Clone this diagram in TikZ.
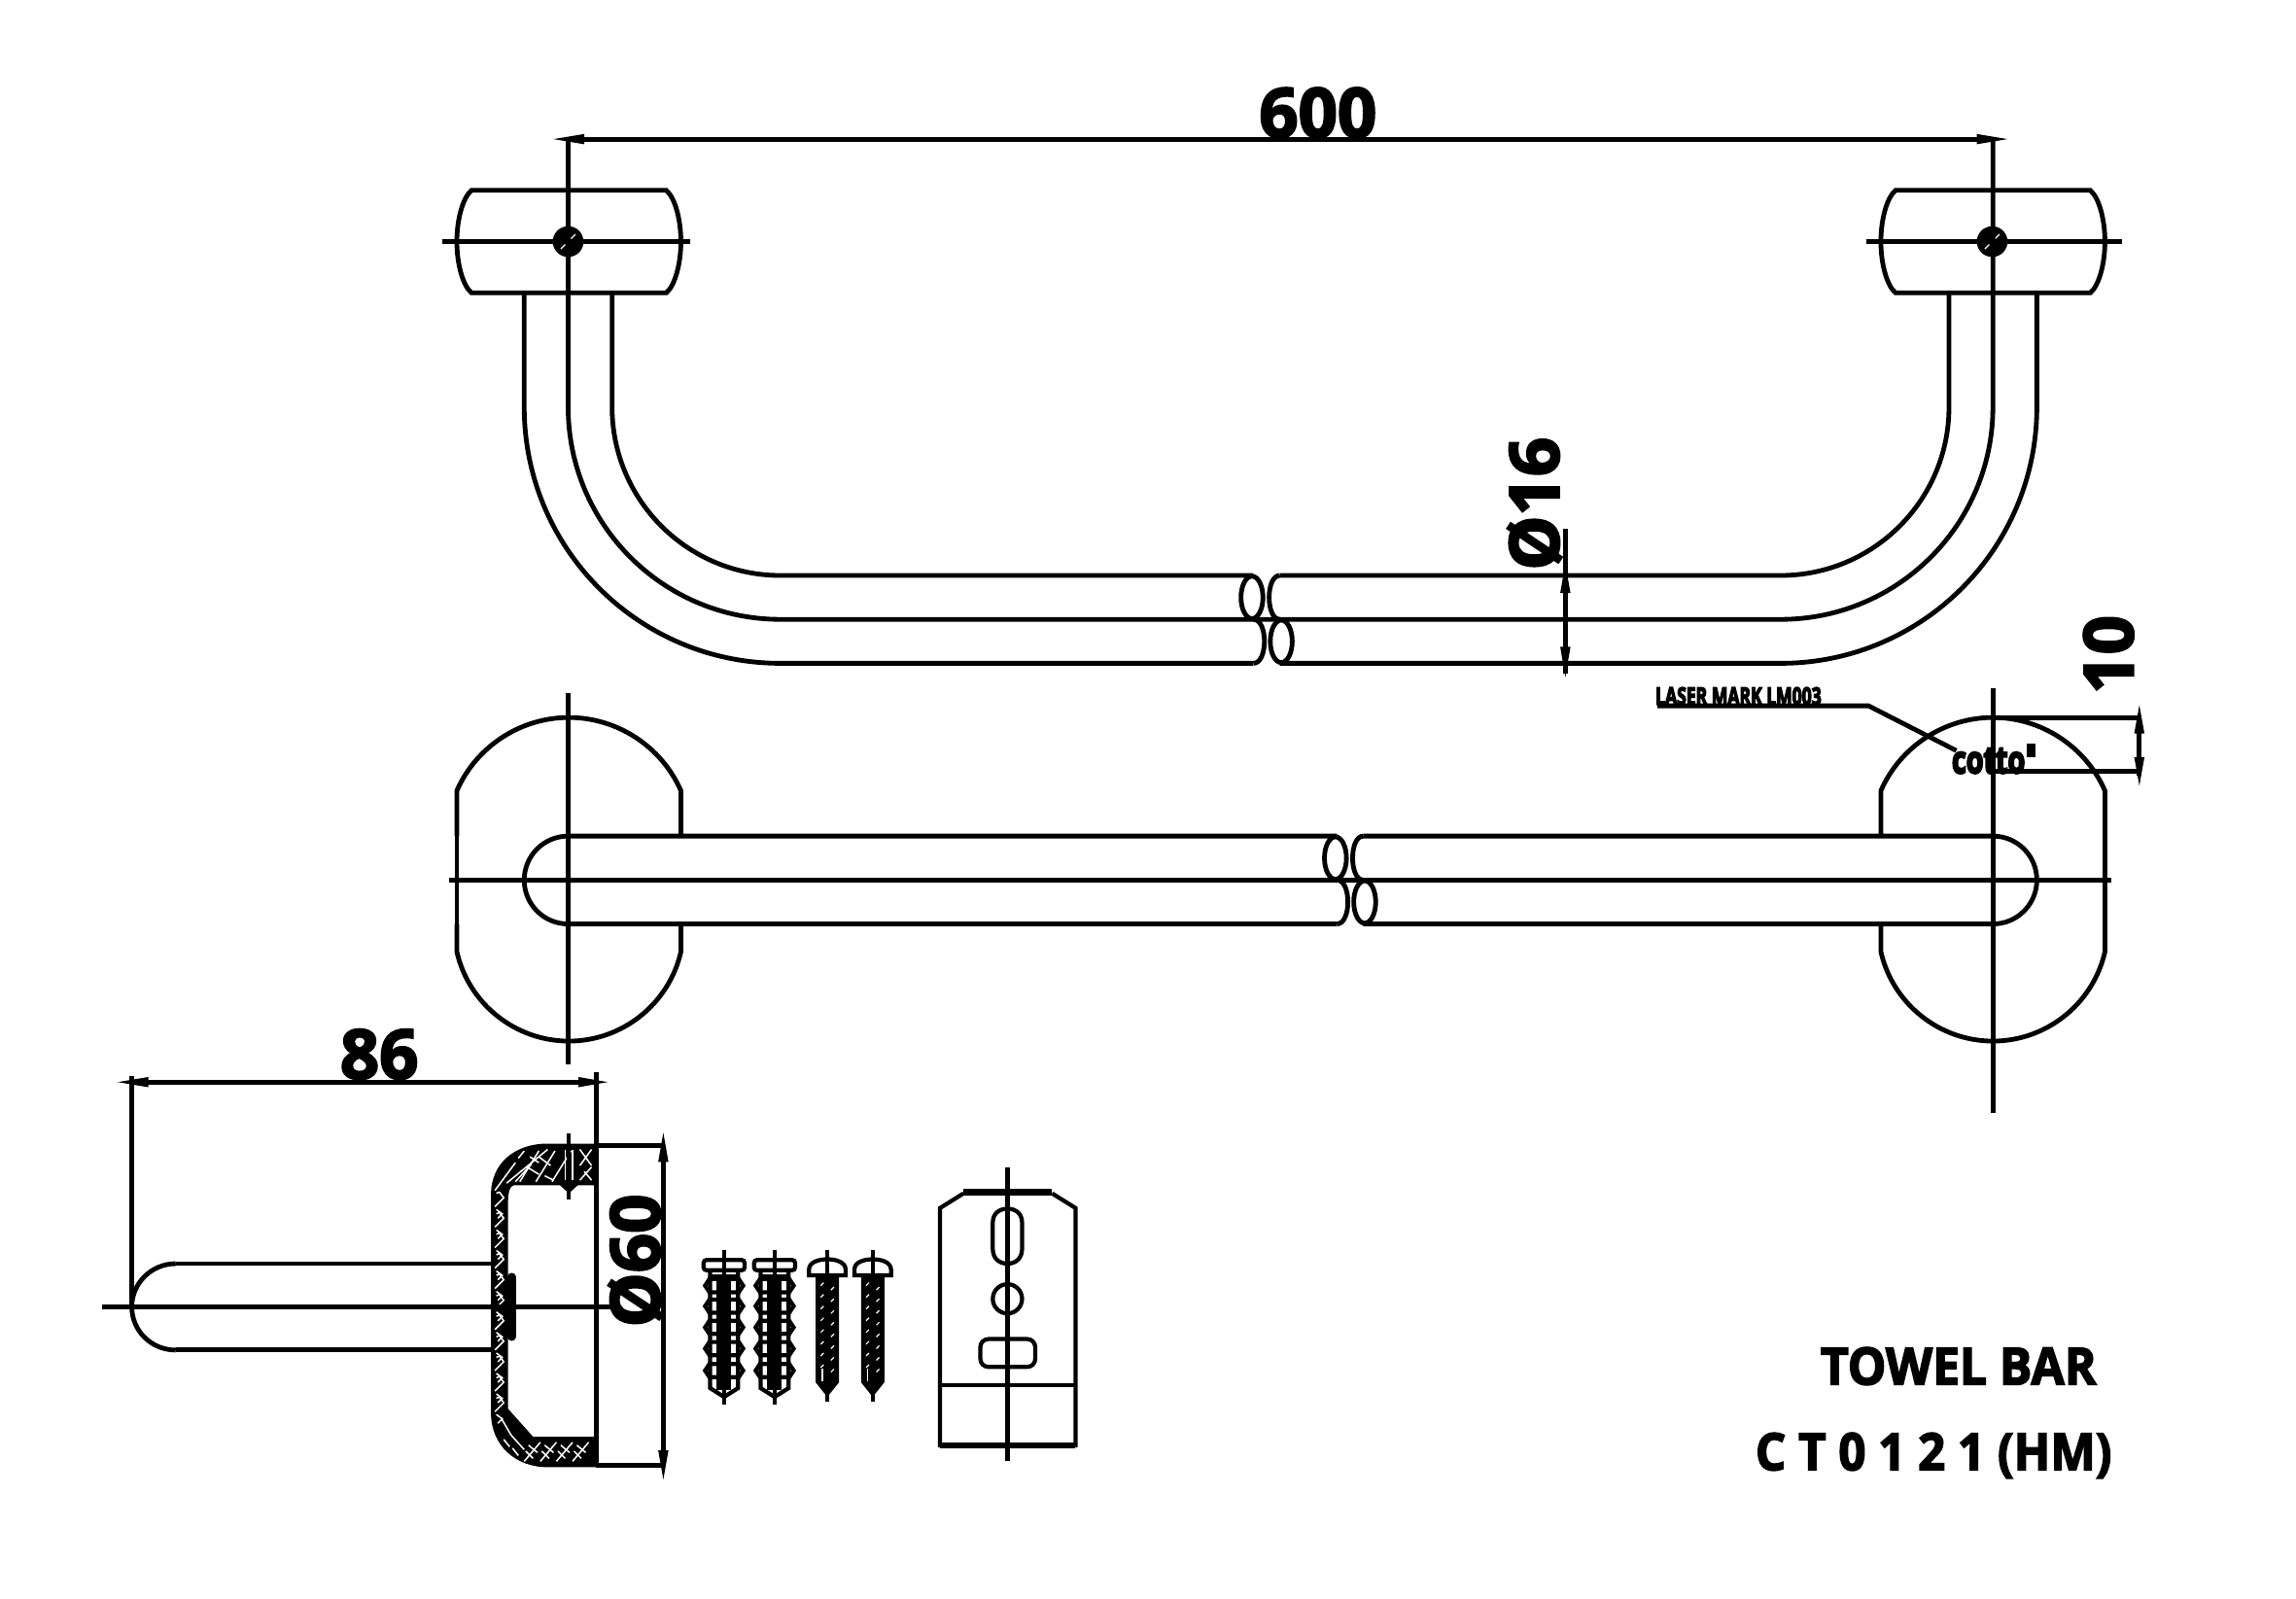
\documentclass[tikz,border=0pt]{standalone}
\usepackage{fontspec}
\newfontfamily\dfa[BoldFeatures={FakeBold=3}]{Open Sans}
\newfontfamily\dfb[BoldFeatures={FakeBold=6}]{Open Sans}
\newcommand\hv[3]{\fill (#1,#2) -- ({#1+3.5},#3) -- ({#1-3.5},#3) -- cycle;}
\newcommand\hh[3]{\fill (#1,#3) -- (#2,{#3+3.5}) -- (#2,{#3-3.5}) -- cycle;}
\newcommand\brk[2]{\begin{scope}[shift={(#1,#2)}]
 \draw (855,408) ellipse [x radius=7.5,y radius=14.5];
 \draw (875,438) ellipse [x radius=7.5,y radius=14.5];
 \draw (874,393) .. controls (864.3,393) and (864.3,423) .. (874,423);
 \draw (856,423) .. controls (866,423) and (866,453) .. (856,453);
\end{scope}}
\newcommand\plate[1]{\begin{scope}[shift={(#1,0)}]
 \draw (312,571) -- (312,540) .. controls (325.2,509.8) and (355.5,490) .. (388.5,490) .. controls (421.5,490) and (451.8,509.8) .. (465,540) -- (465,571);
 \draw (312,631) -- (312,650) .. controls (320.1,685.6) and (352,711) .. (388.5,711) .. controls (425,711) and (456.9,685.6) .. (465,650) -- (465,631);
\end{scope}}
\newcommand\barcap[1]{\begin{scope}[shift={(#1,0)}]
 \draw (322,130) -- (455,130) .. controls (461,135) and (465,150) .. (465,165) .. controls (465,180) and (461,195) .. (455,200) -- (322,200) .. controls (316,195) and (312,180) .. (312,165) .. controls (312,150) and (316,135) .. (322,130) -- cycle;
 \draw (302,165) -- (471,165);
 \fill (388,165) circle [radius=10.5];
 \draw[white,line width=1pt] (383,170) -- (386,167) (390,163) -- (393,160);
\end{scope}}
\newcommand\plug[1]{\begin{scope}[shift={(#1,0)}]
 \draw[thn] (0,854) -- (0,959.5);
 \draw[thn] (-9.5,868) -- (-9.5,948) -- (0,954) -- (9.5,948) -- (9.5,868);
 \foreach \yy in {878,892,906.5,921,936}{\draw[thn] (-13,\yy) -- (-10,{\yy-4.5}) -- (10,{\yy-4.5}) -- (13,\yy) -- (10,{\yy+4.5}) -- (-10,{\yy+4.5}) -- cycle;}
 \fill (-5,875) rectangle (5,949);
 \draw[thn,fill=white,rounded corners=2.5] (-14,860.5) rectangle (14,867.5);
 \draw[thn] (0,854) -- (0,868);
 \draw[thn] (-9.5,872) -- (9.5,872);
\end{scope}}
\newcommand\screw[1]{\begin{scope}[shift={(#1,0)}]
 \draw[thn] (0,854) -- (0,957);
 \fill (-8,871) -- (8,871) -- (8,944) -- (0,954) -- (-8,944) -- cycle;
 \draw[thn,fill=white] (-12.5,871) -- (-12.5,867) .. controls (-12.5,862) and (-6,860) .. (0,860) .. controls (6,860) and (12.5,862) .. (12.5,867) -- (12.5,871) -- cycle;
 \draw[thn] (0,854) -- (0,871);
 \foreach \yy in {876,884,...,932}{\draw[white,line width=1pt] (-4.5,{\yy+2}) -- (-2.5,\yy) (2.5,{\yy+5}) -- (4.5,{\yy+3});}
 \draw[white,line width=1.6pt] (-3.5,935) -- (-3.5,943);
\end{scope}}
\begin{document}
\begin{tikzpicture}[x=0.045cm,y=-0.045cm,line width=4.1pt,line join=miter,
  thn/.style={line width=3.6pt},
  wh/.style={white,line width=1.3pt},
  lbl/.style={font=\dfa\bfseries\fontsize{60}{60}\selectfont,inner sep=0pt,text=black},
  ttl/.style={font=\dfa\bfseries\fontsize{45}{45}\selectfont,inner sep=0pt,text=black}]
\useasboundingbox (0,0) rectangle (1568,1092);
\fill[white] (0,0) rectangle (1568,1092);
% ---------- top view
\barcap{0}\barcap{972.5}
\draw (1440,165) -- (1449,165);
\draw (358,200) -- (358,278) .. controls (358,374.7) and (436.3,453) .. (533,453) -- (856,453);
\draw (874,453) -- (1216,453) .. controls (1312.7,453) and (1391,374.7) .. (1391,278) -- (1391,200);
\draw (418,200) -- (418,278) .. controls (418,341.5) and (469.5,393) .. (533,393) -- (856,393);
\draw (874,393) -- (1216,393) .. controls (1279.5,393) and (1331,341.5) .. (1331,278) -- (1331,200);
\draw (388,95) -- (388,278) .. controls (388,358.1) and (452.9,423) .. (533,423) -- (1216,423) .. controls (1296.1,423) and (1361,358.1) .. (1361,278) -- (1361,95);
\brk{0}{0}
% dim 600
\draw (395,95) -- (1355,95);
\hh{378}{399}{95}\hh{1371}{1350}{95}
\node[lbl] (d600) at (900,77) {600};
% dim 16
\draw (1069,361) -- (1069,460);
\hv{1069}{385}{405}\hv{1069}{462.6}{441.7}
\node[lbl,rotate=90] (d16) at (1048,344) {Ø16};
% ---------- front view
\plate{0}
\begin{scope}[shift={(972.5,0)}]
 \draw (312,571) -- (312,540) .. controls (325.2,509.8) and (355.5,490) .. (388.5,490) .. controls (421.5,490) and (451.8,509.8) .. (465,540) -- (465,650) .. controls (456.9,685.6) and (425,711) .. (388.5,711) .. controls (352,711) and (320.1,685.6) .. (312,650) -- (312,631);
\end{scope}
\draw (312,540) -- (312,650);
\draw (388,473) -- (388,727);
\draw (1361,470) -- (1361,760);
\draw (307,601) -- (1442,601);
\draw (913,571) -- (388,571) .. controls (371.4,571) and (358,584.4) .. (358,601) .. controls (358,617.6) and (371.4,631) .. (388,631) -- (913,631);
\draw (931,571) -- (1361,571) .. controls (1377.6,571) and (1391,584.4) .. (1391,601) .. controls (1391,617.6) and (1377.6,631) .. (1361,631) -- (931,631);
\brk{57}{178}
% dim 10
\draw (1361,490.5) -- (1461,490.5) (1361,527) -- (1461,527);
\draw (1461,490) -- (1461,530);
\hv{1461}{481.5}{501}\hv{1461}{536.6}{517}
\node[lbl,rotate=90] (d10) at (1440,447) {10};
% laser mark
\draw (1132,482) -- (1276,482) -- (1336,512.6);
\node[font=\dfb\bfseries\fontsize{21}{21}\selectfont,inner sep=0pt,xscale=0.71,anchor=south west] (laser) at (1129.5,483) {LASER MARK LM003};
\node[font=\dfb\bfseries\fontsize{33}{33}\selectfont,inner sep=0pt,xscale=0.74,anchor=base] (logo) at (1358,528) {cotto};
\fill (1384,507.5) rectangle (1390,517);
% ---------- side view
\draw (90,735) -- (90,892);
\draw (97,739) -- (400,739);
\hh{80.4}{101.4}{739}\hh{415}{395}{739}
\node[lbl] (d86) at (259,720) {86};
\draw (120,863) .. controls (103.4,863) and (90,876.4) .. (90,892.4) .. controls (90,908.9) and (103.4,922) .. (120,922);
\draw (120,863) -- (336,863) (120,922) -- (336,922);
% body
\fill (407,781) -- (374,781) .. controls (352,781) and (335.3,794) .. (335.3,816) -- (335.3,965) .. controls (335.3,987) and (352,1002) .. (374,1002) -- (407,1002) -- cycle;
\fill[white] (407,809.5) -- (351,809.5) .. controls (348,810) and (347,815) .. (347,820) -- (347,962) -- (364,981) -- (407,981) -- cycle;
\draw[line width=7pt,line cap=round] (349.5,872) -- (349.5,913);
% hatch, top block
\draw[wh] (338,813) -- (352,794) (354,791) -- (358,786) (346,808) -- (374,785) (352,807) -- (363,795);
\foreach \xx in {358,369,380}{\draw[wh] ({\xx-3},807) -- ({\xx+10},786);}
\draw[wh] (360,797) -- (368,802) (368,790) -- (376,796) (362,790) -- (368,794) (372,803) -- (378,806);
\draw[wh,line width=1.6pt] (386,785) -- (386,806) (391,785) -- (391,806);
\draw[wh] (396,806) -- (404,797) (396,785) -- (404,796) (404,785) -- (396,796) (404,806) -- (399,800);
\draw[thn] (388.5,774) -- (388.5,819);
\fill (382,809) -- (395,809) -- (388.5,815) -- cycle;
% hatch, left wall
\foreach \yy in {820,834,...,960}{\draw[wh] (338,{\yy+4}) -- (344,{\yy-2}) -- (341,{\yy-6}) (339,{\yy-5}) -- (341,{\yy-6});\draw[wh] (339,{\yy+6}) -- (343,{\yy+9}) -- (340,{\yy+12});}
% hatch, bottom block
\draw[wh] (342,968) -- (349,980) -- (358,990);
\foreach \xx in {358,369,380,391}{\draw[wh] (\xx,998) -- ({\xx+11},985);
 \draw[wh] ({\xx+3},987) -- ({\xx+9},992) ({\xx+1},991) -- ({\xx+6},996);}
\foreach \xx in {344,350}{\draw[wh] (\xx,{983+(\xx-344)}) -- ({\xx+4},{988+(\xx-344)});}
\draw (407,732) -- (407,1002);
\draw (407,782.5) -- (453,782.5) (407,1000.5) -- (453,1000.5);
\draw (70,892.4) -- (417,892.4);
\draw (453,785) -- (453,1000);
\hv{453}{773.6}{793.5}\hv{453}{1010.4}{990.5}
\node[lbl,rotate=90] (d60) at (434,861) {Ø60};
% ---------- fasteners
\plug{494.5}\plug{529}\screw{565}\screw{596}
% ---------- bracket
\draw[thn] (658,815) -- (642,825) -- (642,987) -- (734.5,987) -- (734.5,825) -- (718.5,815);
\draw[line width=6pt] (658,814) -- (718.5,814);
\draw[line width=5pt] (642,987) -- (734.5,987);
\draw[thn] (642,946) -- (734.5,946);
\draw[thn] (678,835) -- (678,853) .. controls (678,859) and (682,863) .. (688,863) .. controls (694,863) and (698,859) .. (698,853) -- (698,835) .. controls (698,829) and (694,825.5) .. (688,825.5) .. controls (682,825.5) and (678,829) .. (678,835) -- cycle;
\draw[thn] (688,887) circle [radius=10];
\draw[thn,rounded corners=7] (669.5,914.5) rectangle (707,933.5);
\draw[thn] (688,797) -- (688,998);
% ---------- titles
\node[ttl,xscale=0.94] (t1) at (1337.5,933) {TOWEL BAR};
\node[ttl,xscale=0.93] (t2) at (1320.5,994) {C T 0 1 2 1 (HM)};
\end{tikzpicture}
\end{document}
